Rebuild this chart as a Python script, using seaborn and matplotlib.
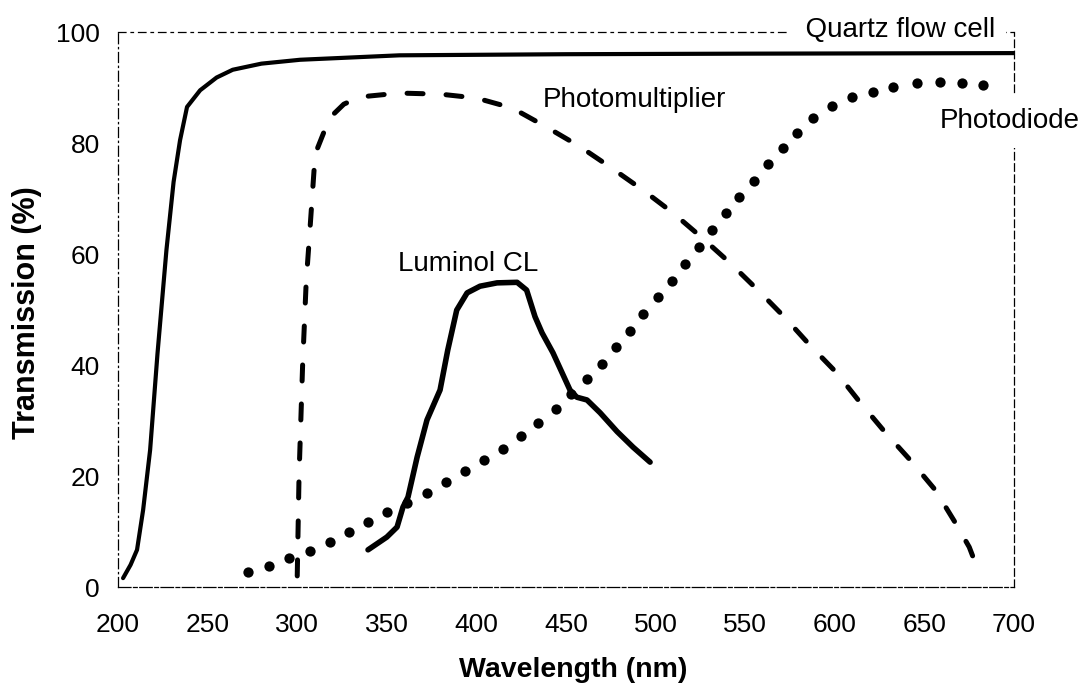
import numpy as np
import pandas as pd
import seaborn as sns
import matplotlib.pyplot as plt

# Quartz flow cell transmission (solid thin line)
quartz_nm = [202.8, 207, 210.6, 214, 217.9, 222, 227, 231, 234.6, 238.5, 245.8,
             255, 264, 280, 301.6, 357, 450, 550, 700]
quartz_pct = [1.6, 4.0, 6.7, 13.9, 24.7, 42.0, 60.7, 73.0, 80.5, 86.5, 89.5,
              91.8, 93.2, 94.3, 95.0, 95.8, 96.0, 96.1, 96.2]

# Photomultiplier response (dashed)
pmt_nm = [300, 301, 303, 305, 307, 310, 318, 326, 335, 357, 380, 400, 420, 439,
          458, 474.5, 493, 509.7, 526, 541.5, 558, 572, 586, 601, 614, 628, 642,
          656, 667, 675, 680]
pmt_pct = [2.0, 20.0, 40.0, 55.0, 64.0, 78.0, 84.5, 87.0, 88.3, 89.0, 88.8, 88.1,
           86.3, 82.9, 79.3, 75.7, 71.5, 67.4, 62.9, 58.4, 53.2, 48.6, 43.6, 38.6,
           33.3, 27.9, 22.9, 17.5, 11.7, 7.2, 3.0]

# Photodiode response (dots)
diode_nm = [272.5, 284.3, 295.4, 307.1, 318.3, 328.9, 339.5, 350.1, 361.3, 372.4,
            383.0, 393.6, 404.2, 414.8, 424.9, 434.4, 444.4, 452.8, 461.7, 470.1,
            477.9, 485.7, 493.0, 501.3, 509.2, 516.4, 524.2, 531.5, 539.3, 546.5,
            554.9, 562.7, 571.1, 578.9, 587.8, 598.4, 609.6, 621.3, 632.5, 645.9,
            658.7, 671.0, 682.7]
diode_pct = [2.7, 3.8, 5.2, 6.5, 8.1, 9.9, 11.7, 13.5, 15.1, 16.9,
             18.9, 20.9, 22.9, 24.9, 27.2, 29.5, 32.1, 34.8, 37.5, 40.2,
             43.2, 46.1, 49.2, 52.3, 55.1, 58.2, 61.3, 64.3, 67.4, 70.3,
             73.2, 76.2, 79.1, 81.8, 84.5, 86.7, 88.3, 89.2, 90.1, 90.8,
             91.0, 90.8, 90.5]

# Luminol chemiluminescence spectrum (thick solid)
lum_nm = [339.5, 350, 355.7, 359, 361.8, 364, 366.9, 372.4, 379.7, 384, 389,
          394.8, 402, 411.5, 422.7, 428, 432.7, 436.6, 442.7, 452.2, 456, 461.7,
          469, 478.5, 487.4, 496.9]
lum_pct = [6.7, 9.0, 10.8, 14.4, 16.2, 19.3, 23.4, 30.1, 35.5, 42.7, 49.9,
           53.0, 54.2, 54.8, 54.9, 53.5, 48.7, 45.8, 42.2, 35.5, 34.2, 33.7,
           31.4, 28.0, 25.2, 22.5]

x_ticks = [200, 250, 300, 350, 400, 450, 500, 550, 600, 650, 700]
y_ticks = [0, 20, 40, 60, 80, 100]

sns.set_style('white')
plt.rcParams['font.family'] = ['Liberation Sans', 'DejaVu Sans']
plt.rcParams['text.color'] = 'black'
plt.rcParams['axes.labelcolor'] = 'black'

fig = plt.figure(figsize=(10.92, 6.84), dpi=100)
ax = fig.add_axes([0.1081, 0.1418, 0.8205, 0.8114])

sns.lineplot(x=quartz_nm, y=quartz_pct, ax=ax, color='black', lw=3.0,
             sort=False, estimator=None)
sns.lineplot(x=pmt_nm, y=pmt_pct, ax=ax, color='black', lw=3.6,
             sort=False, estimator=None, linestyle=(0, (3.2, 4.6)),
             dash_capstyle='round')
sns.lineplot(x=lum_nm, y=lum_pct, ax=ax, color='black', lw=4.0,
             sort=False, estimator=None, solid_capstyle='round')
sns.scatterplot(x=diode_nm, y=diode_pct, ax=ax, color='black', s=55,
                linewidth=0, zorder=5)

ax.set_xlim(200, 700)
ax.set_ylim(0, 100)
ax.set_xticks(x_ticks)
ax.set_yticks(y_ticks)
ax.tick_params(axis='both', direction='in', length=4, width=0.8,
               labelsize=19, colors='black')
ax.tick_params(axis='x', pad=19)
ax.tick_params(axis='y', pad=13)

for side, dash in [('top', (0, (6, 4, 2, 4))), ('left', (0, (8, 3, 1, 3))),
                   ('bottom', (0, (10, 2, 3, 2))), ('right', (0, (6, 3)))]:
    ax.spines[side].set_visible(True)
    ax.spines[side].set_color('black')
    ax.spines[side].set_linewidth(0.9)
    ax.spines[side].set_linestyle(dash)

ax.set_xlabel('Wavelength (nm)', fontsize=20.5, fontweight='bold')
ax.set_ylabel('Transmission (%)', fontsize=22, fontweight='bold')
ax.xaxis.set_label_coords(0.508, -0.127)
ax.yaxis.set_label_coords(-0.085, 0.495)

ax.text(575, 99.1, '  Quartz flow cell ', fontsize=20, ha='left',
        va='baseline', bbox=dict(boxstyle='square,pad=0.12', fc='white', ec='none'),
        clip_on=False, zorder=4)
ax.text(437, 86.5, 'Photomultiplier', fontsize=20, ha='left', va='baseline')
ax.text(356, 56.9, 'Luminol CL', fontsize=20, ha='left', va='baseline')
ax.text(658.5, 82.7, 'Photodiode', fontsize=20, ha='left', va='baseline',
        bbox=dict(boxstyle='square,pad=0.5', fc='white', ec='none'),
        clip_on=False, zorder=4)

plt.savefig('out.png', dpi=100)
